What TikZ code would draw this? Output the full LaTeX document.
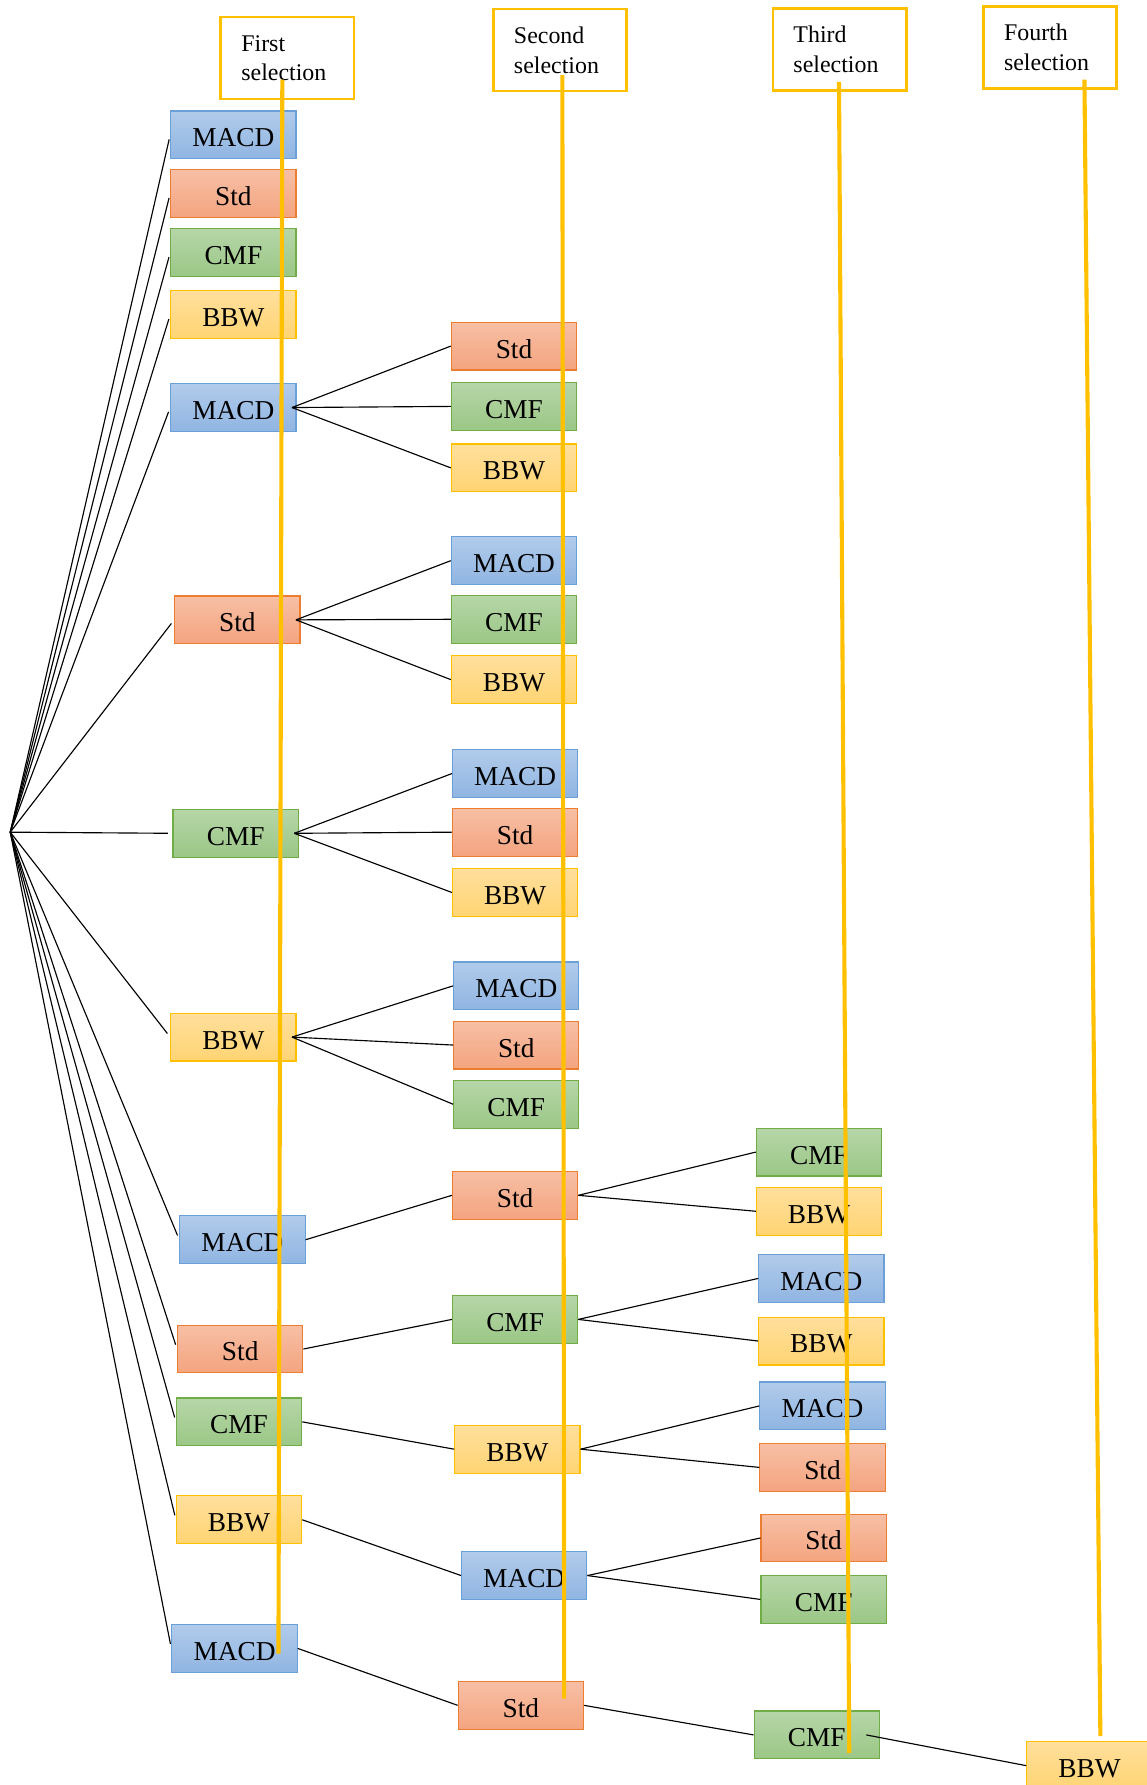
\documentclass[tikz,border=0pt]{standalone}
\usepackage{fontspec}
\setmainfont{Liberation Serif}
\usepackage{xcolor}
\usepackage{tikz}
\usetikzlibrary{calc,positioning}
\definecolor{gold}{HTML}{FFC000}
\definecolor{macdline}{HTML}{6A9FD8} \definecolor{macdtop}{HTML}{B1CBEA} \definecolor{macdbot}{HTML}{90B5E2}
\definecolor{stdline}{HTML}{ED7D31}  \definecolor{stdtop}{HTML}{F7BFA5}  \definecolor{stdbot}{HTML}{F4A47F}
\definecolor{cmfline}{HTML}{70AD47}  \definecolor{cmftop}{HTML}{B6D6A8}  \definecolor{cmfbot}{HTML}{9BC786}
\definecolor{bbwline}{HTML}{FFC000}  \definecolor{bbwtop}{HTML}{FFDF9C}  \definecolor{bbwbot}{HTML}{FFD473}

\begin{document}
\begin{tikzpicture}[x=0.5pt,y=-0.5pt,
  feat/.style={draw,line width=0.5pt,minimum width=55pt,minimum height=21pt,inner sep=0pt,text height=10.5pt,text depth=0pt,font=\fontsize{12}{14}\selectfont},
  macd/.style={feat,draw=macdline,top color=macdtop,bottom color=macdbot},
  std/.style={feat,draw=stdline,top color=stdtop,bottom color=stdbot},
  cmf/.style={feat,draw=cmfline,top color=cmftop,bottom color=cmfbot},
  bbw/.style={feat,draw=bbwline,top color=bbwtop,bottom color=bbwbot},
  headbox/.style={draw=gold,line width=1.2pt,fill=white,minimum height=36pt,inner xsep=9pt,text width=40.5pt,align=left,font=\fontsize{10.5}{13}\selectfont},
  link/.style={line width=0.5pt,black},
  rankline/.style={draw=gold,line width=1.8pt}]
\useasboundingbox (0,0) rectangle (1007,1568);
%headers
\node[headbox] (hf) at (252.5,51) {First\\selection};
\node[headbox] (hs) at (492,44) {Second\\selection};
\node[headbox] (ht) at (737.5,43.5) {Third\\selection};
\node[headbox] (hq) at (922.5,41.5) {Fourth\\selection};
\coordinate (root) at (9,731);
%first selection
\node[macd] (f1) at (205,118.5) {MACD}; \node[std] (f2) at (205,170) {Std}; \node[cmf] (f3) at (205,222) {CMF}; \node[bbw] (f4) at (205,276.5) {BBW};
\node[macd] (f5) at (205,358) {MACD}; \node[std] (f6) at (208.5,544.5) {Std}; \node[cmf] (f7) at (207,732) {CMF}; \node[bbw] (f8) at (205,911) {BBW};
\node[macd] (f9) at (213,1089) {MACD}; \node[std] (f10) at (211,1185) {Std}; \node[cmf] (f11) at (210,1249) {CMF}; \node[bbw] (f12) at (210,1335) {BBW};
\node[macd] (f13) at (206,1448) {MACD};
%second selection
\node[std] (s1) at (451.5,304) {Std}; \node[cmf] (s2) at (451.5,357) {CMF}; \node[bbw] (s3) at (451.5,411) {BBW};
\node[macd] (s4) at (451.5,492.5) {MACD}; \node[cmf] (s5) at (451.5,544) {CMF}; \node[bbw] (s6) at (451.5,597) {BBW};
\node[macd] (s7) at (452.5,679.5) {MACD}; \node[std] (s8) at (452.5,731) {Std}; \node[bbw] (s9) at (452.5,784) {BBW};
\node[macd] (s10) at (453.5,866) {MACD}; \node[std] (s11) at (453.5,918) {Std}; \node[cmf] (s12) at (453.5,970) {CMF};
\node[std] (s13) at (452.5,1050) {Std}; \node[cmf] (s14) at (452.5,1159) {CMF}; \node[bbw] (s15) at (454.5,1273) {BBW};
\node[macd] (s16) at (460.5,1384) {MACD}; \node[std] (s17) at (457.5,1498) {Std};
%third selection
\node[cmf] (t1) at (719.5,1012) {CMF}; \node[bbw] (t2) at (719.5,1064) {BBW};
\node[macd] (t3) at (721.5,1123) {MACD}; \node[bbw] (t4) at (721.5,1178) {BBW};
\node[macd] (t5) at (722.5,1235) {MACD}; \node[std] (t6) at (722.5,1289) {Std};
\node[std] (t7) at (723.5,1351) {Std}; \node[cmf] (t8) at (723.5,1405) {CMF};
\node[cmf] (t9) at (717.5,1524) {CMF};
%fourth selection
\node[bbw] (q1) at (957,1551) {BBW};
%links
\draw[link,shorten >=2pt] (root) edge (f1.west) edge (f2.west) edge (f3.west) edge (f4.west) edge (f5.west) edge (f6.west) edge (f7.west)
  edge (f8.west) edge (f9.west) edge (f10.west) edge (f11.west) edge (f12.west) edge (f13.west);
\draw[link] ([xshift=-2pt]f5.east) edge (s1.west) edge (s2.west) edge (s3.west);
\draw[link] ([xshift=-2pt]f6.east) edge (s4.west) edge (s5.west) edge (s6.west);
\draw[link] ([xshift=-2pt]f7.east) edge (s7.west) edge (s8.west) edge (s9.west);
\draw[link] ([xshift=-2pt]f8.east) edge (s10.west) edge (s11.west) edge (s12.west);
\draw[link] (f9.east) -- (s13.west); \draw[link] (f10.east) -- (s14.west); \draw[link] (f11.east) -- (s15.west);
\draw[link] (f12.east) -- (s16.west); \draw[link] (f13.east) -- (s17.west);
\draw[link] (s13.east) edge (t1.west) edge (t2.west);
\draw[link] (s14.east) edge (t3.west) edge (t4.west);
\draw[link] (s15.east) edge (t5.west) edge (t6.west);
\draw[link] (s16.east) edge (t7.west) edge (t8.west);
\draw[link] (s17.east) -- (t9.west);
\draw[link] ([xshift=-6pt]t9.east) -- (q1.west);
%selection lines
\coordinate (ft) at (248,70); \coordinate (fb) at (244.6,1452.6);
\coordinate (st) at (494,66); \coordinate (sb) at (495.6,1492);
\coordinate (tt) at (737,72); \coordinate (tb) at (746,1540);
\coordinate (qt) at (952.6,70); \coordinate (qb) at (966.6,1525);
\draw[rankline] (ft) -- (fb); \draw[rankline] (st) -- (sb);
\draw[rankline] (tt) -- (tb); \draw[rankline] (qt) -- (qb);
\end{tikzpicture}
\end{document}
